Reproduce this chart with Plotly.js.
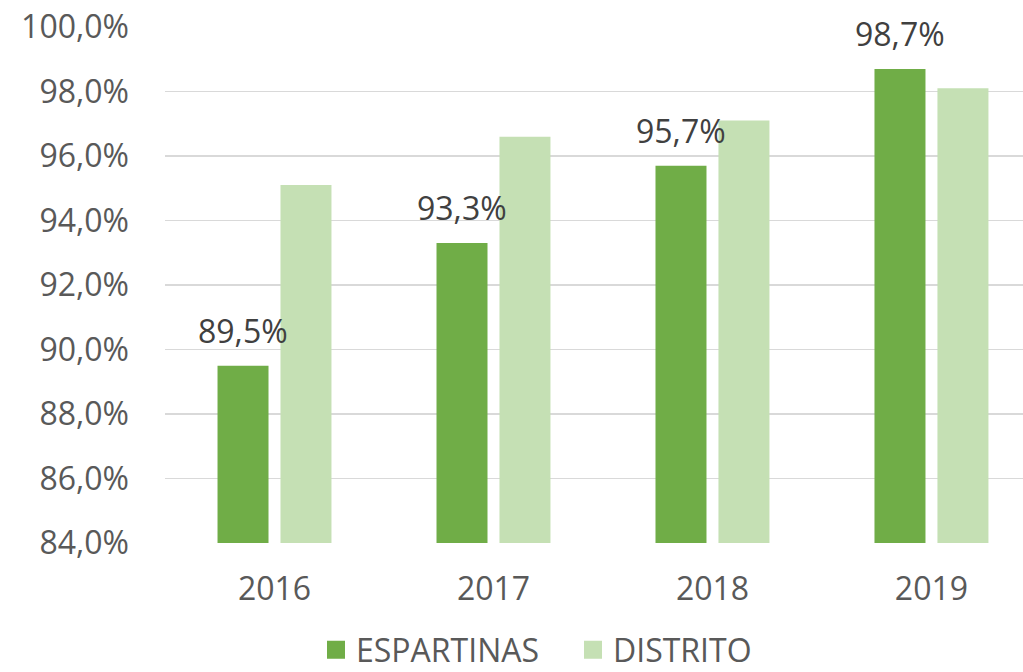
<!DOCTYPE html>
<html><head><meta charset="utf-8">
<script src="https://cdn.plot.ly/plotly-3.0.1.min.js"></script>
<style>html,body{margin:0;padding:0;background:#fff;}#chart{width:1023px;height:672px;}</style>
</head><body><div id="chart"></div>
<script>
const years = ['2016','2017','2018','2019'];
const espartinas = [89.5, 93.3, 95.7, 98.7];
const distrito = [95.1, 96.6, 97.1, 98.1];
const seriesNames = ['ESPARTINAS','DISTRITO'];
const colors = ['#70ad47','#c5e0b4'];
const fontFam = 'Open Sans, Liberation Sans, sans-serif';
const FS = 32;

const traces = [
  {type:'bar', name:seriesNames[0], x:years, y:espartinas, marker:{color:colors[0]}, hoverinfo:'none', showlegend:false},
  {type:'bar', name:seriesNames[1], x:years, y:distrito, marker:{color:colors[1]}, hoverinfo:'none', showlegend:false},
  {type:'scatter', mode:'markers', name:seriesNames[0], x:[null], y:[null], marker:{symbol:'square', size:16, color:colors[0], line:{width:2, color:colors[0]}}, hoverinfo:'none'},
  {type:'scatter', mode:'markers', name:seriesNames[1], x:[null], y:[null], marker:{symbol:'square', size:16, color:colors[1], line:{width:2, color:colors[1]}}, hoverinfo:'none'}
];
const annotations = years.map((yr,i)=>({
  x: i, y: espartinas[i], xref:'x', yref:'y', xshift:-31.5, yshift:12,
  text: espartinas[i].toFixed(1).replace('.',',') + '%', showarrow:false,
  yanchor:'bottom', xanchor:'center', font:{family:fontFam, size:FS, color:'#404040'}
}));
const layout = {
  width:1023, height:672,
  margin:{l:165, r:0, t:27, b:129},
  paper_bgcolor:'#fff', plot_bgcolor:'#fff',
  separators:',.',
  barmode:'group', bargap:0.425, bargroupgap:0.19,
  showlegend:true,
  legend:{orientation:'h', x:316/1023, xref:'container', xanchor:'left', y:22/672, yref:'container', yanchor:'middle', font:{family:fontFam, size:FS, color:'#595959'}, itemwidth:30, entrywidth:212, traceorder:'normal', bgcolor:'rgba(0,0,0,0)'},
  xaxis:{type:'category', range:[-0.5, 3.418], automargin:false, showgrid:false, showline:false, ticks:'', ticklabelstandoff:24, tickfont:{family:fontFam, size:FS, color:'#595959'}},
  yaxis:{range:[84,100], dtick:2, automargin:false, tickformat:'.1f', ticksuffix:'%', showgrid:true, gridcolor:'#d9d9d9', gridwidth:1.5, zeroline:false, showline:false, ticks:'', ticklabelstandoff:35, tickfont:{family:fontFam, size:FS, color:'#595959'}},
  annotations: annotations
};
Plotly.newPlot('chart', traces, layout, {staticPlot:true, displayModeBar:false});
</script></body></html>
